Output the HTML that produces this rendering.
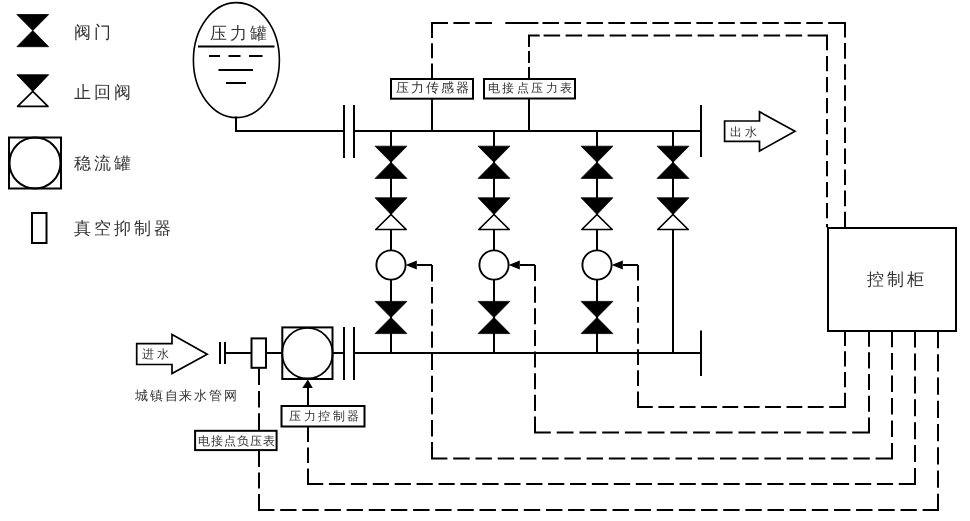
<!DOCTYPE html>
<html><head><meta charset="utf-8">
<style>
html,body{margin:0;padding:0;background:#fff;width:970px;height:521px;overflow:hidden}
svg{position:absolute;left:0;top:0}
.t{position:absolute;will-change:transform;font-family:"Liberation Sans",sans-serif;color:#333;white-space:nowrap;line-height:1}
.L{font-size:17px;letter-spacing:3px}
.S{font-size:12px;letter-spacing:3px}
</style></head><body>
<svg width="970" height="521" viewBox="0 0 970 521">
<g fill="none" stroke="#000" stroke-width="2">
<!-- legend -->
<rect x="9" y="137.5" width="52" height="51"/>
<circle cx="35" cy="163" r="25.5"/>
<rect x="32" y="213" width="14.5" height="30"/>
<!-- tank -->
<ellipse cx="236.4" cy="60.1" rx="43" ry="57.5" stroke-width="1.6"/>
<path d="M198,46.5 H274.5 M209,56 H220 M228.5,56 H240.5 M249,56 H262.5 M218.5,70 H253 M226,83 H246"/>
<path d="M236,116.5 V131 H344"/>
<path d="M344,105 V158 M354,105 V158"/>
<path d="M354,131 H701 M701,105 V157"/>
<path d="M432,99 V131 M529,98 V131"/>
<rect x="391" y="79" width="82" height="19.7"/>
<rect x="484" y="79" width="91" height="19.5"/>
<!-- columns -->
<path d="M391,131 V353 M494,131 V353 M597,131 V353 M673,131 V353"/>
<!-- bottom header -->
<path d="M354,353 H701 M701,330.5 V376 M344,327 V380 M354,327 V380"/>
<path d="M225,353 H252 M266,353 H282 M332,353 H344"/>
<path d="M220,342 V364 M225,342 V364"/>
<rect x="251.5" y="338.4" width="14.5" height="29.4"/>
<rect x="282.3" y="327.4" width="50.2" height="51.6"/>
<circle cx="307.4" cy="353.2" r="25.3" stroke-width="1.8"/>
<!-- outlet arrow -->
<path d="M724.6,121 H759.5 V111.8 L795,131.3 L759.5,151 V141.4 H724.6 Z" stroke-width="1.7"/>
<!-- inlet arrow -->
<path d="M136.7,343.7 H172 V334.4 L207.2,354.2 L172,373.6 V364.5 H136.7 Z" stroke-width="1.7"/>
<!-- cabinet -->
<rect x="828" y="228" width="128" height="103"/>
<!-- controller boxes -->
<rect x="281.5" y="406" width="83" height="20.5"/>
<rect x="195.1" y="430.8" width="81.5" height="19.3"/>
<path d="M308,386 V406"/>

<path d="M307.8,379.5 L302.3,388 H312.8 Z" fill="#000" stroke="none"/>
</g>
<!-- valves -->
<defs>
<g id="gv"><path d="M-15.9,-16.1 H15.9 L0,0 Z M0,0 L15.9,16.1 H-15.9 Z" fill="#000" stroke="#000" stroke-width="0.8" stroke-linejoin="round"/></g>
<g id="cv"><path d="M-15.9,-16.4 H15.9 L0,0.3 Z" fill="#000" stroke="#000" stroke-width="0.8" stroke-linejoin="round"/><path d="M0,0.3 L15.2,15.3 H-15.2 Z" fill="#fff" stroke="#000" stroke-width="1.7" stroke-linejoin="round"/></g>
<g id="ci"><circle r="14.6" fill="#fff" stroke="#000" stroke-width="1.9"/><path d="M14.6,0 L25.8,-4.5 V4.5 Z" fill="#000"/></g>
</defs>
<use href="#gv" x="32.8" y="30.6"/><use href="#cv" x="32.8" y="91.1"/>
<use href="#gv" x="391" y="162.3"/><use href="#cv" x="391" y="214.2"/><use href="#ci" x="391" y="265"/><use href="#gv" x="391" y="317.5"/>
<use href="#gv" x="494" y="162.3"/><use href="#cv" x="494" y="214.2"/><use href="#ci" x="494" y="265"/><use href="#gv" x="494" y="317.5"/>
<use href="#gv" x="597" y="162.3"/><use href="#cv" x="597" y="214.2"/><use href="#ci" x="597" y="265"/><use href="#gv" x="597" y="317.5"/>
<use href="#gv" x="673" y="162.3"/><use href="#cv" x="673" y="214.2"/>
<g fill="none" stroke="#000" stroke-width="2">
<path d="M417,265 H432 M520,265 H535 M623,265 H638"/>
</g>
<!-- dashed lines -->
<path fill="none" stroke="#000" stroke-width="2" d="M432.0,23.0 L432.0,38.0 M432.0,43.3 L432.0,58.3 M432.0,63.6 L432.0,78.6 M431.0,23.0 L448.0,23.0 M453.4,23.0 L469.7,23.0 M475.3,23.0 L492.0,23.0 M505.3,23.0 L538.4,23.0 M542.5,23.0 L559.0,23.0 M564.5,23.0 L581.0,23.0 M586.5,23.0 L603.0,23.0 M608.4,23.0 L624.9,23.0 M630.4,23.0 L646.9,23.0 M652.4,23.0 L668.9,23.0 M674.4,23.0 L690.9,23.0 M696.4,23.0 L712.9,23.0 M718.3,23.0 L734.8,23.0 M740.3,23.0 L756.8,23.0 M762.3,23.0 L778.8,23.0 M784.3,23.0 L800.8,23.0 M806.3,23.0 L822.8,23.0 M828.2,23.0 L846.0,23.0 M845.0,22.0 L845.0,37.6 M845.0,43.1 L845.0,58.7 M845.0,64.2 L845.0,79.8 M845.0,85.2 L845.0,100.8 M845.0,106.3 L845.0,121.9 M845.0,127.4 L845.0,143.0 M845.0,148.5 L845.0,164.1 M845.0,169.5 L845.0,185.1 M845.0,190.6 L845.0,206.2 M845.0,211.7 L845.0,227.3 M529.0,34.5 L529.0,46.9 M529.0,50.9 L529.0,63.0 M529.0,67.0 L529.0,78.6 M528.0,35.5 L539.7,35.5 M543.6,35.5 L560.1,35.5 M565.6,35.5 L582.1,35.5 M587.6,35.5 L604.1,35.5 M609.6,35.5 L626.1,35.5 M631.6,35.5 L648.1,35.5 M653.6,35.5 L670.1,35.5 M675.6,35.5 L692.1,35.5 M697.6,35.5 L714.1,35.5 M719.6,35.5 L736.1,35.5 M741.6,35.5 L758.1,35.5 M763.6,35.5 L780.1,35.5 M785.6,35.5 L802.1,35.5 M807.6,35.5 L828.0,35.5 M827.0,35.0 L827.0,50.2 M827.0,56.0 L827.0,71.2 M827.0,77.0 L827.0,92.2 M827.0,98.0 L827.0,113.2 M827.0,119.0 L827.0,134.2 M827.0,140.0 L827.0,155.2 M827.0,161.0 L827.0,176.2 M827.0,182.0 L827.0,197.2 M827.0,203.0 L827.0,218.2 M827.0,224.0 L827.0,227.3 M432.0,265.0 L432.0,281.4 M432.0,287.1 L432.0,303.5 M432.0,309.3 L432.0,325.7 M432.0,331.4 L432.0,347.8 M432.0,353.6 L432.0,369.9 M432.0,375.7 L432.0,392.1 M432.0,397.8 L432.0,414.2 M432.0,420.0 L432.0,436.4 M432.0,442.1 L432.0,458.5 M431.0,458.5 L447.4,458.5 M453.2,458.5 L469.7,458.5 M475.5,458.5 L491.9,458.5 M497.7,458.5 L514.1,458.5 M519.9,458.5 L536.4,458.5 M542.1,458.5 L558.6,458.5 M564.4,458.5 L580.8,458.5 M586.6,458.5 L603.0,458.5 M608.8,458.5 L625.3,458.5 M631.0,458.5 L647.5,458.5 M653.3,458.5 L669.7,458.5 M675.5,458.5 L692.0,458.5 M697.7,458.5 L714.2,458.5 M720.0,458.5 L736.4,458.5 M742.2,458.5 L758.6,458.5 M764.4,458.5 L780.9,458.5 M786.6,458.5 L803.1,458.5 M808.9,458.5 L825.3,458.5 M831.1,458.5 L847.5,458.5 M853.3,458.5 L869.8,458.5 M875.6,458.5 L892.0,458.5 M892.0,330.6 L892.0,347.2 M892.0,353.1 L892.0,369.7 M892.0,375.5 L892.0,392.1 M892.0,398.0 L892.0,414.6 M892.0,420.4 L892.0,437.0 M892.0,442.9 L892.0,459.5 M535.0,265.0 L535.0,281.0 M535.0,286.6 L535.0,302.7 M535.0,308.3 L535.0,324.3 M535.0,329.9 L535.0,345.9 M535.0,351.6 L535.0,367.6 M535.0,373.2 L535.0,389.2 M535.0,394.8 L535.0,410.9 M535.0,416.5 L535.0,432.5 M534.0,432.5 L550.8,432.5 M556.7,432.5 L573.5,432.5 M579.5,432.5 L596.3,432.5 M602.2,432.5 L619.0,432.5 M624.9,432.5 L641.7,432.5 M647.6,432.5 L664.5,432.5 M670.4,432.5 L687.2,432.5 M693.1,432.5 L709.9,432.5 M715.8,432.5 L732.6,432.5 M738.5,432.5 L755.4,432.5 M761.3,432.5 L778.1,432.5 M784.0,432.5 L800.8,432.5 M806.7,432.5 L823.5,432.5 M829.5,432.5 L846.3,432.5 M852.2,432.5 L869.0,432.5 M869.0,330.6 L869.0,346.7 M869.0,352.3 L869.0,368.4 M869.0,374.0 L869.0,390.1 M869.0,395.7 L869.0,411.8 M869.0,417.4 L869.0,433.5 M638.0,265.0 L638.0,280.6 M638.0,286.1 L638.0,301.7 M638.0,307.1 L638.0,322.7 M638.0,328.2 L638.0,343.8 M638.0,349.3 L638.0,364.9 M638.0,370.3 L638.0,385.9 M638.0,391.4 L638.0,407.0 M637.0,407.0 L652.8,407.0 M658.4,407.0 L674.2,407.0 M679.7,407.0 L695.5,407.0 M701.1,407.0 L716.9,407.0 M722.4,407.0 L738.2,407.0 M743.8,407.0 L759.6,407.0 M765.1,407.0 L780.9,407.0 M786.5,407.0 L802.3,407.0 M807.8,407.0 L823.6,407.0 M829.2,407.0 L845.0,407.0 M845.0,330.6 L845.0,345.9 M845.0,351.3 L845.0,366.6 M845.0,372.0 L845.0,387.3 M845.0,392.7 L845.0,408.0 M308.0,426.6 L308.0,442.1 M308.0,447.5 L308.0,463.1 M308.0,468.5 L308.0,484.0 M307.0,484.0 L323.2,484.0 M328.9,484.0 L345.1,484.0 M350.8,484.0 L367.1,484.0 M372.8,484.0 L389.0,484.0 M394.7,484.0 L410.9,484.0 M416.6,484.0 L432.8,484.0 M438.5,484.0 L454.7,484.0 M460.4,484.0 L476.6,484.0 M482.3,484.0 L498.6,484.0 M504.3,484.0 L520.5,484.0 M526.2,484.0 L542.4,484.0 M548.1,484.0 L564.3,484.0 M570.0,484.0 L586.2,484.0 M591.9,484.0 L608.2,484.0 M613.8,484.0 L630.1,484.0 M635.8,484.0 L652.0,484.0 M657.7,484.0 L673.9,484.0 M679.6,484.0 L695.8,484.0 M701.5,484.0 L717.7,484.0 M723.4,484.0 L739.7,484.0 M745.4,484.0 L761.6,484.0 M767.3,484.0 L783.5,484.0 M789.2,484.0 L805.4,484.0 M811.1,484.0 L827.3,484.0 M833.0,484.0 L849.2,484.0 M854.9,484.0 L871.2,484.0 M876.9,484.0 L893.1,484.0 M898.8,484.0 L915.0,484.0 M915.0,330.6 L915.0,347.6 M915.0,353.5 L915.0,370.5 M915.0,376.4 L915.0,393.4 M915.0,399.3 L915.0,416.3 M915.0,422.2 L915.0,439.2 M915.0,445.1 L915.0,462.1 M915.0,468.0 L915.0,485.0 M259.0,368.5 L259.0,385.1 M259.0,390.9 L259.0,407.5 M259.0,413.3 L259.0,429.9 M259.0,450.9 L259.0,466.9 M259.0,472.5 L259.0,488.4 M259.0,494.0 L259.0,510.0 M258.0,510.0 L274.4,510.0 M280.2,510.0 L296.5,510.0 M302.3,510.0 L318.7,510.0 M324.5,510.0 L340.9,510.0 M346.6,510.0 L363.0,510.0 M368.8,510.0 L385.2,510.0 M390.9,510.0 L407.3,510.0 M413.1,510.0 L429.5,510.0 M435.2,510.0 L451.6,510.0 M457.4,510.0 L473.8,510.0 M479.5,510.0 L495.9,510.0 M501.7,510.0 L518.1,510.0 M523.8,510.0 L540.2,510.0 M546.0,510.0 L562.4,510.0 M568.1,510.0 L584.5,510.0 M590.3,510.0 L606.7,510.0 M612.5,510.0 L628.9,510.0 M634.6,510.0 L651.0,510.0 M656.8,510.0 L673.2,510.0 M678.9,510.0 L695.3,510.0 M701.1,510.0 L717.5,510.0 M723.2,510.0 L739.6,510.0 M745.4,510.0 L761.8,510.0 M767.5,510.0 L783.9,510.0 M789.7,510.0 L806.1,510.0 M811.8,510.0 L828.2,510.0 M834.0,510.0 L850.4,510.0 M856.1,510.0 L872.5,510.0 M878.3,510.0 L894.7,510.0 M900.5,510.0 L916.8,510.0 M922.6,510.0 L939.0,510.0 M938.0,331.0 L938.0,348.2 M938.0,354.3 L938.0,371.5 M938.0,377.5 L938.0,394.7 M938.0,400.8 L938.0,418.0 M938.0,424.0 L938.0,441.2 M938.0,447.3 L938.0,464.5 M938.0,470.5 L938.0,487.7 M938.0,493.8 L938.0,511.0"/>
</svg>
<div class="t L" style="left:74px;top:23.5px">阀门</div>
<div class="t L" style="left:74px;top:84px">止回阀</div>
<div class="t L" style="left:74px;top:155px">稳流罐</div>
<div class="t L" style="left:74px;top:220px">真空抑制器</div>
<div class="t L" style="left:210px;top:24.5px">压力罐</div>
<div class="t L" style="left:867px;top:271px">控制柜</div>
<div class="t S" style="left:395.5px;top:82px;font-size:12.5px;letter-spacing:2.1px">压力传感器</div>
<div class="t S" style="left:488px;top:82px;letter-spacing:2.4px">电接点压力表</div>
<div class="t S" style="left:289px;top:410px;letter-spacing:2.5px">压力控制器</div>
<div class="t S" style="left:198px;top:434.8px;font-size:12px;letter-spacing:1px">电接点负压表</div>
<div class="t S" style="left:730px;top:125.5px;font-size:12px;letter-spacing:3px">出水</div>
<div class="t S" style="left:142px;top:348px;font-size:12px;letter-spacing:3px">进水</div>
<div class="t S" style="left:135px;top:388.7px;font-size:13px;letter-spacing:1.8px">城镇自来水管网</div>
</body></html>
